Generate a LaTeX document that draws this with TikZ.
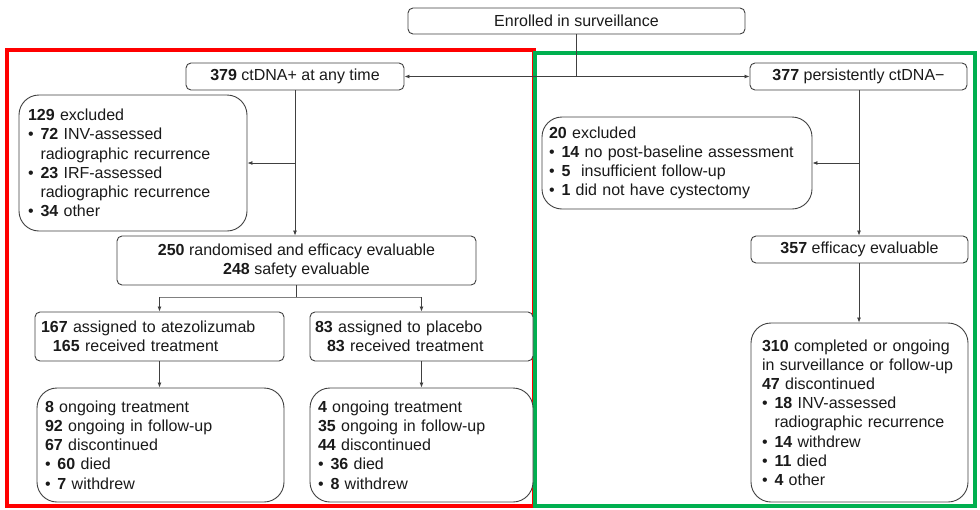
\documentclass[tikz,border=0pt]{standalone}
\usepackage{fontspec}
\setmainfont{Liberation Sans}
\usetikzlibrary{arrows.meta}
\definecolor{framered}{HTML}{FF0000}
\definecolor{framegreen}{HTML}{00B050}
\definecolor{edge}{HTML}{404040}
\definecolor{ink}{HTML}{1A1A1A}
\newcommand{\bul}{\makebox[12.5pt][l]{•}}
\newcommand{\ind}{\hspace*{12.5pt}}
\begin{document}
\begin{tikzpicture}[x=1pt,y=-1pt,
  font=\fontsize{16}{19.2}\selectfont, text=ink,
  box/.style={draw=edge, line width=0.9pt, fill=white, rounded corners=5pt,
    inner sep=0pt, align=center},
  listbox/.style={draw=edge, line width=0.9pt, fill=white, rounded corners=20pt,
    inner ysep=0pt, align=left},
  flatlist/.style={listbox, rounded corners=5pt},
  link/.style={draw=edge, line width=0.8pt},
  arr/.style={link, -{Latex[length=5pt,width=4pt]}},
  frame/.style={line width=4pt}]
\useasboundingbox (0,0) rectangle (980,509);

% cohort frames
\draw[frame, framered] (7,50) rectangle (534,506);
\draw[frame, framegreen] (535,52.5) rectangle (975,506);

% top of the flow
\node[box, minimum width=337pt, minimum height=26pt] (enr) at (576.5,21) {Enrolled in surveillance};
\node[box, minimum width=218pt, minimum height=27pt] (pos) at (295,76.5) {\textbf{379} ctDNA+ at any time};
\node[box, minimum width=217pt, minimum height=27pt] (neg) at (858.5,76.5) {\textbf{377} persistently ctDNA−};

% ctDNA+ arm
\node[listbox, text width=210pt, inner xsep=9pt, minimum height=136pt] (exA) at (133,163)
  {\textbf{129} excluded\\
   \bul\textbf{72} INV-assessed\\
   \ind radiographic recurrence\\
   \bul\textbf{23} IRF-assessed\\
   \ind radiographic recurrence\\
   \bul\textbf{34} other};
\node[box, minimum width=359pt, minimum height=49pt] (rand) at (296.5,260.5)
  {\textbf{250} randomised and efficacy evaluable\\\textbf{248} safety evaluable};
\node[flatlist, text width=237pt, inner xsep=6pt, minimum height=49pt] (atz) at (159.5,336.5)
  {\textbf{167} assigned to atezolizumab\\\hspace*{12pt}\textbf{165} received treatment};
\node[flatlist, text width=213pt, inner xsep=5pt, minimum height=49pt] (plc) at (421.5,336.5)
  {\textbf{83} assigned to placebo\\\hspace*{12pt}\textbf{83} received treatment};
\node[listbox, text width=231pt, inner xsep=8pt, minimum height=114pt] (outA) at (160.5,445)
  {\textbf{8} ongoing treatment\\
   \textbf{92} ongoing in follow-up\\
   \textbf{67} discontinued\\
   \bul\textbf{60} died\\
   \bul\textbf{7} withdrew};
\node[listbox, text width=207pt, inner xsep=8pt, minimum height=114pt] (outP) at (421.5,445)
  {\textbf{4} ongoing treatment\\
   \textbf{35} ongoing in follow-up\\
   \textbf{44} discontinued\\
   \bul\textbf{36} died\\
   \bul\textbf{8} withdrew};

% ctDNA- arm
\node[listbox, text width=256pt, inner xsep=7pt, minimum height=92pt] (exB) at (677,163)
  {\textbf{20} excluded\\
   \bul\textbf{14} no post-baseline assessment\\
   \bul\textbf{5}\ \ insufficient follow-up\\
   \bul\textbf{1} did not have cystectomy};
\node[box, minimum width=217pt, minimum height=27pt] (eff) at (859.5,249.5) {\textbf{357} efficacy evaluable};
\node[listbox, text width=195pt, inner xsep=11pt, minimum height=179pt] (out2) at (859.5,412.5)
  {\textbf{310} completed or ongoing\\
   in surveillance or follow-up\\
   \textbf{47} discontinued\\
   \bul\textbf{18} INV-assessed\\
   \ind radiographic recurrence\\
   \bul\textbf{14} withdrew\\
   \bul\textbf{11} died\\
   \bul\textbf{4} other};

% connectors
\coordinate (split) at (576,76.5);
\draw[link] (enr.south -| split) -- (split);
\draw[arr] (split) -- (pos.east);
\draw[arr] (split) -- (neg.west);

\coordinate (pdrop) at (295,163);
\draw[arr] (pos.south) -- (pos.south |- rand.north);
\draw[arr] (pdrop) -- (exA.east |- pdrop);

\coordinate (fork) at (296.5,297);
\coordinate (forkL) at (159.5,297);
\coordinate (forkR) at (421.5,297);
\draw[link] (rand.south) -- (fork);
\draw[link, draw=gray] (forkL) -- (forkR);
\draw[arr] (forkL) -- (atz.north);
\draw[arr] (forkR) -- (plc.north);
\draw[arr] (atz.south) -- (atz.south |- outA.north);
\draw[arr] (plc.south) -- (plc.south |- outP.north);

\coordinate (ndrop) at (859,163);
\draw[arr] (neg.south -| ndrop) -- (ndrop |- eff.north);
\draw[arr] (ndrop) -- (exB.east |- ndrop);
\draw[arr] (eff.south -| ndrop) -- (ndrop |- out2.north);
\end{tikzpicture}
\end{document}
